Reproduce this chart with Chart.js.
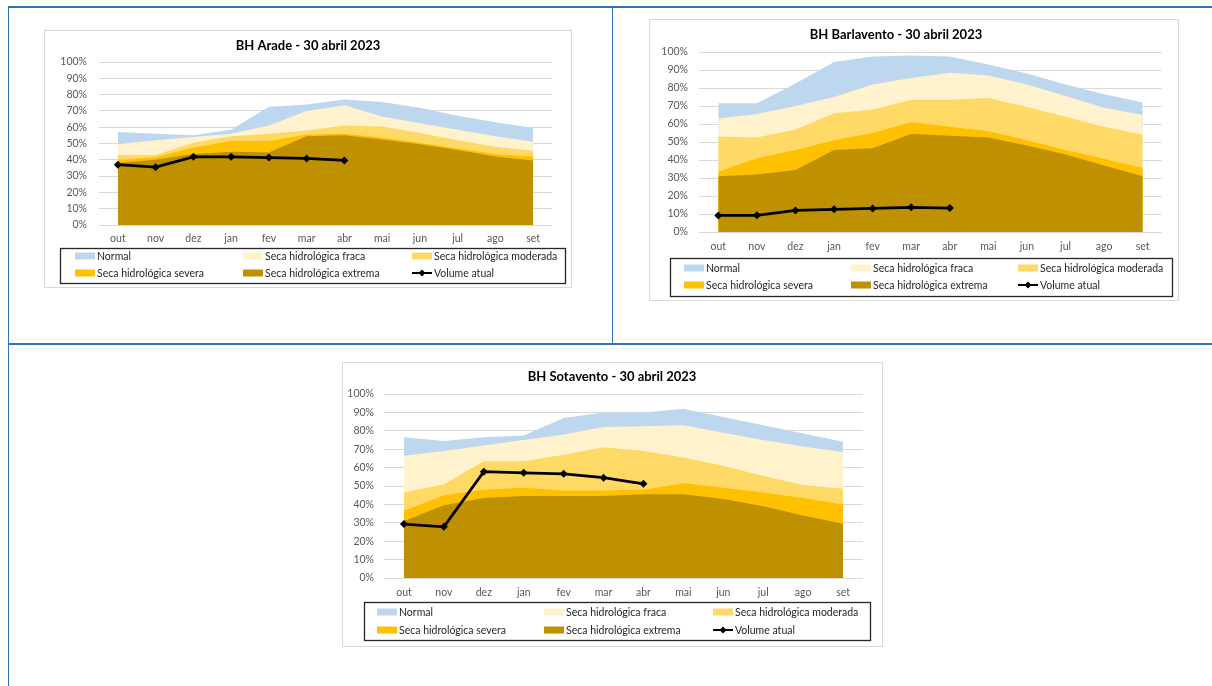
<!DOCTYPE html>
<html lang="pt">
<head>
<meta charset="utf-8">
<title>Bacias hidrográficas - 30 abril 2023</title>
<script src="https://cdn.jsdelivr.net/npm/chart.js@4.4.0/dist/chart.umd.min.js"></script>
<style>
  html, body { margin: 0; padding: 0; background: #fff; }
  body { width: 1212px; height: 686px; position: relative; overflow: hidden; font-family: Lato, sans-serif; }
  .linha { position: absolute; background: #2e75b6; }
  .caixa { position: absolute; border: 1px solid #d9d9d9; background: #fff; }
  .caixa canvas { display: block; }
</style>
</head>
<body>
<!-- moldura da tabela -->
<div class="linha" style="left:8px;top:6px;width:1204px;height:2px"></div>
<div class="linha" style="left:8px;top:6px;width:1px;height:680px"></div>
<div class="linha" style="left:612px;top:6px;width:1px;height:338px"></div>
<div class="linha" style="left:8px;top:343px;width:1204px;height:2px"></div>

<div class="caixa" style="left:44px;top:30px"><canvas id="graficoArade" width="526" height="256"></canvas></div>
<div class="caixa" style="left:649px;top:19px"><canvas id="graficoBarlavento" width="528" height="280"></canvas></div>
<div class="caixa" style="left:342px;top:362px"><canvas id="graficoSotavento" width="539" height="283"></canvas></div>

<script>
// Meses do ano hidrológico
const meses = ['out', 'nov', 'dez', 'jan', 'fev', 'mar', 'abr', 'mai', 'jun', 'jul', 'ago', 'set'];
const nomesSeries = ['Normal', 'Seca hidrológica fraca', 'Seca hidrológica moderada',
                     'Seca hidrológica severa', 'Seca hidrológica extrema', 'Volume atual'];
const coresSeries = ['#bdd7ee', '#fff2cc', '#ffd966', '#ffc000', '#bf9000', '#000000'];

// BH Arade (%)
const aradeNormal   = [57, 56, 55, 58.5, 72.5, 74, 77, 75.5, 72, 67, 63, 59.5];
const aradeFraca    = [49.5, 52, 54, 56, 61, 70, 73.5, 66.5, 62.5, 58.5, 54.5, 51];
const aradeModerada = [43, 43, 50.5, 54.5, 56, 58, 61, 60.5, 56.5, 52, 48, 45.5];
const aradeSevera   = [40, 41.5, 47.5, 51.5, 51.5, 55.5, 56, 53.5, 50.5, 47, 43.5, 42];
const aradeExtrema  = [38, 40, 43.5, 45, 44.5, 54.5, 55, 52.5, 49.5, 46, 42, 39.5];
const aradeVolume   = [37, 35.5, 41.8, 41.8, 41.4, 40.8, 39.6, null, null, null, null, null];

// BH Barlavento (%)
const barlaventoNormal   = [71.5, 71.5, 82.5, 94.5, 97.5, 98, 97.5, 93, 88, 82, 76.5, 72];
const barlaventoFraca    = [63, 65.5, 70, 75, 82, 85.5, 88.5, 87, 82, 75.5, 69, 65];
const barlaventoModerada = [53, 52.5, 57, 66, 68, 73.5, 73.5, 74.5, 69.5, 64, 58.5, 54];
const barlaventoSevera   = [33.5, 41, 45.5, 51, 55, 61, 58.5, 56, 51, 45.5, 40.5, 35.5];
const barlaventoExtrema  = [31, 32, 34.5, 45.5, 46.5, 54.5, 53.5, 52.5, 48, 43, 37, 31];
const barlaventoVolume   = [9.2, 9.3, 12, 12.6, 13.1, 13.7, 13.3, null, null, null, null, null];

// BH Sotavento (%)
const sotaventoNormal   = [76.5, 74.5, 76.5, 77.5, 87, 90, 90, 92, 87.5, 83, 78.5, 74];
const sotaventoFraca    = [66.5, 69, 72, 75, 78, 82, 82.5, 83, 79, 75, 71.5, 68.5];
const sotaventoModerada = [46.5, 51, 63.5, 63.5, 67, 71, 69, 65.5, 61, 55.5, 50.5, 48.5];
const sotaventoSevera   = [36.5, 45, 48, 49, 47.5, 47.5, 48, 51.5, 49, 46.5, 43.5, 40];
const sotaventoExtrema  = [31, 39.5, 43.5, 44.5, 44.5, 44.5, 45.5, 45.5, 43, 39, 34, 29.5];
const sotaventoVolume   = [29.3, 27.8, 57.8, 57.2, 56.6, 54.5, 51.2, null, null, null, null, null];

Chart.defaults.font.family = 'Lato, sans-serif';

// Título e legenda em grelha (3 colunas) desenhados à maneira do Excel
const quadroExcel = {
    id: 'quadroExcel',
    afterDraw: (chart, args, opts) => {
        const ctx = chart.ctx;
        const L = opts.legenda;
        ctx.save();

        ctx.font = 'bold 13px Lato, sans-serif';
        ctx.fillStyle = '#000';
        ctx.textAlign = 'center';
        ctx.textBaseline = 'middle';
        ctx.fillText(opts.titulo, opts.tituloX, opts.tituloY);

        ctx.strokeStyle = '#262626';
        ctx.lineWidth = 1.3;
        ctx.strokeRect(L.x + 0.5, L.y + 0.5, L.w, L.h);

        ctx.font = '10.5px Lato, sans-serif';
        ctx.textAlign = 'left';
        chart.data.datasets.forEach((ds, i) => {
            const x = L.colunas[i % 3];
            const y = L.linhas[Math.floor(i / 3)];
            if (ds.fill) {
                ctx.fillStyle = ds.backgroundColor;
                ctx.fillRect(x, y - 3.5, 20, 7);
            } else {
                ctx.strokeStyle = ds.borderColor;
                ctx.lineWidth = 2;
                ctx.beginPath();
                ctx.moveTo(x, y);
                ctx.lineTo(x + 20, y);
                ctx.stroke();
                ctx.fillStyle = ds.borderColor;
                ctx.beginPath();
                ctx.moveTo(x + 10, y - 3.5);
                ctx.lineTo(x + 13.5, y);
                ctx.lineTo(x + 10, y + 3.5);
                ctx.lineTo(x + 6.5, y);
                ctx.closePath();
                ctx.fill();
            }
            ctx.fillStyle = '#262626';
            ctx.fillText(ds.label, x + 22, y + 0.5);
        });
        ctx.restore();
    }
};

function criarGrafico(idCanvas, titulo, series, disp) {
    const ctx = document.getElementById(idCanvas).getContext('2d');
    const alturaEixoX = 26;

    const datasets = series.map((valores, i) => {
        const ehVolume = i === series.length - 1;
        return {
            label: nomesSeries[i],
            data: valores,
            backgroundColor: coresSeries[i],
            borderColor: coresSeries[i],
            borderWidth: ehVolume ? 2.75 : 0,
            fill: ehVolume ? false : 'origin',
            pointRadius: ehVolume ? 4 : 0,
            pointStyle: 'rectRot',
            pointBackgroundColor: '#000',
            pointBorderWidth: 0,
            tension: 0,
            // Normal fica atrás, volume atual à frente
            order: series.length - 1 - i,
        };
    });

    return new Chart(ctx, {
        type: 'line',
        data: { labels: meses, datasets: datasets },
        options: {
            responsive: false,
            animation: false,
            devicePixelRatio: 1,
            layout: {
                padding: {
                    left: 0,
                    top: disp.topo,
                    right: disp.dir,
                    bottom: disp.altura - disp.base - alturaEixoX,
                }
            },
            plugins: {
                legend: { display: false },
                tooltip: { enabled: false },
                quadroExcel: {
                    titulo: titulo,
                    tituloX: disp.tituloX,
                    tituloY: disp.tituloY,
                    legenda: disp.legenda,
                },
            },
            scales: {
                x: {
                    offset: true,
                    grid: { display: false, drawTicks: false },
                    border: { display: false },
                    ticks: {
                        color: '#595959',
                        font: { size: 10.5 },
                        padding: disp.padX,
                        maxRotation: 0,
                        autoSkip: false,
                    },
                    afterFit: (escala) => { escala.height = alturaEixoX; },
                },
                y: {
                    min: 0,
                    max: 100,
                    grid: { color: '#d9d9d9', lineWidth: 1, drawTicks: false },
                    border: { display: false },
                    ticks: {
                        stepSize: 10,
                        color: '#595959',
                        font: { size: 10.5 },
                        padding: disp.padY,
                        callback: (v) => v + '%',
                    },
                    afterFit: (escala) => { escala.width = disp.esq; },
                },
            },
        },
        plugins: [quadroExcel],
    });
}

criarGrafico('graficoArade', 'BH Arade - 30 abril 2023',
    [aradeNormal, aradeFraca, aradeModerada, aradeSevera, aradeExtrema, aradeVolume],
    { altura: 256, esq: 54, topo: 31, dir: 19, base: 194, padY: 12, padX: 7,
      tituloX: 263, tituloY: 15,
      legenda: { x: 15, y: 217, w: 505, h: 35, colunas: [30, 198, 367], linhas: [225, 242] } });

criarGrafico('graficoBarlavento', 'BH Barlavento - 30 abril 2023',
    [barlaventoNormal, barlaventoFraca, barlaventoModerada, barlaventoSevera, barlaventoExtrema, barlaventoVolume],
    { altura: 280, esq: 49, topo: 32, dir: 16, base: 212, padY: 11, padX: 8,
      tituloX: 246, tituloY: 15,
      legenda: { x: 20, y: 238, w: 502, h: 38, colunas: [34, 201, 368], linhas: [248, 265] } });

criarGrafico('graficoSotavento', 'BH Sotavento - 30 abril 2023',
    [sotaventoNormal, sotaventoFraca, sotaventoModerada, sotaventoSevera, sotaventoExtrema, sotaventoVolume],
    { altura: 283, esq: 41, topo: 31, dir: 19, base: 215, padY: 10, padX: 8,
      tituloX: 269, tituloY: 14,
      legenda: { x: 21, y: 239, w: 506, h: 38, colunas: [34, 201, 370], linhas: [249, 267] } });
</script>
</body>
</html>
